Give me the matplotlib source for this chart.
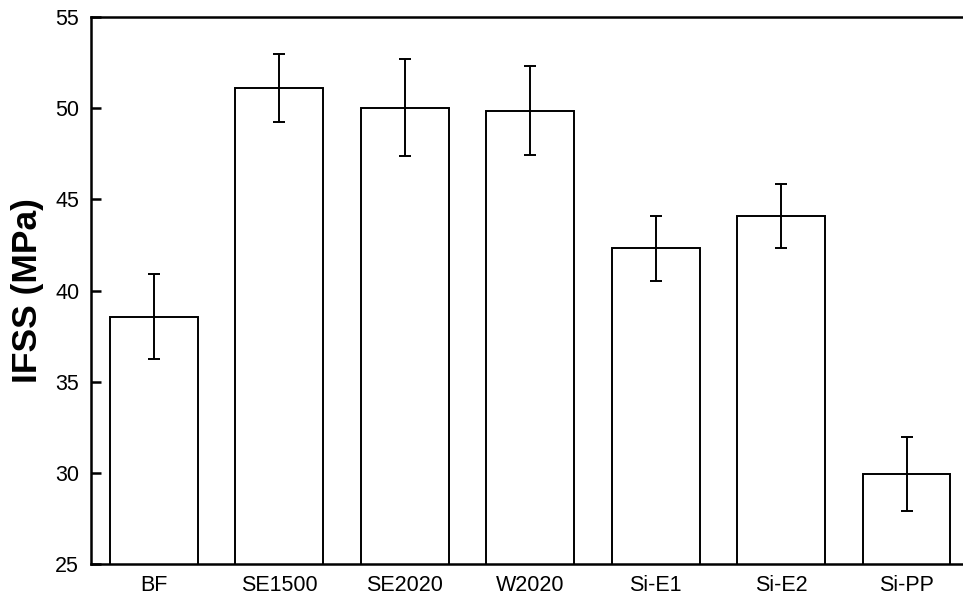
import numpy as np
import matplotlib
matplotlib.use("Agg")
import matplotlib.pyplot as plt

plt.rcParams['font.family'] = ['Liberation Sans', 'DejaVu Sans']

samples = ["BF", "SE1500", "SE2020", "W2020", "Si-E1", "Si-E2", "Si-PP"]
ifss = [38.58, 51.12, 50.03, 49.86, 42.32, 44.09, 29.95]
ifss_err = [2.33, 1.86, 2.65, 2.45, 1.78, 1.75, 2.02]

fig = plt.figure(figsize=(9.63, 6.01), dpi=100)
ax = fig.add_axes([0.0945, 0.061, 0.9055, 0.9107])

x = np.arange(len(samples))
ax.bar(x, ifss, width=0.70, bottom=0, color="white", edgecolor="black",
       linewidth=1.4, zorder=2)
ax.errorbar(x, ifss, yerr=ifss_err, fmt="none", ecolor="black",
            elinewidth=1.4, capsize=4.5, capthick=1.4, zorder=3)

ax.set_xlim(-0.5, 6.45)
ax.set_ylim(25, 55)
ax.set_yticks(np.arange(25, 56, 5))
ax.set_xticks(x)
ax.set_xticklabels(samples)
ax.tick_params(axis="y", direction="in", length=7, width=1.8, labelsize=15.5, pad=8.5)
ax.tick_params(axis="x", length=0, labelsize=15.5, pad=8)

for side in ["left", "bottom", "top"]:
    ax.spines[side].set_linewidth(1.8)
ax.spines["right"].set_visible(False)

ax.set_ylabel("IFSS (MPa)", fontsize=25.5, fontweight="bold", labelpad=8)

fig.savefig("out.png", dpi=100)
